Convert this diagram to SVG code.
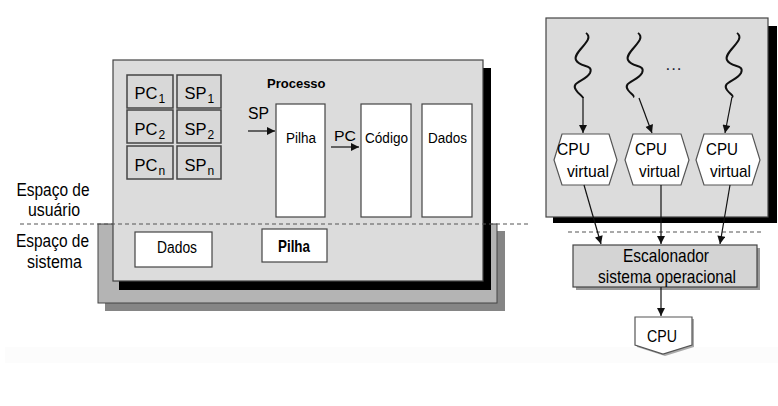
<svg xmlns="http://www.w3.org/2000/svg" width="778" height="406" viewBox="0 0 778 406">
<defs>
<style>
text{font-family:"Liberation Sans",Arial,sans-serif;fill:#000}
.t15{font-size:15px}
.lbl{font-size:17.5px}
.reg-t{font-size:16.5px}
.sub{font-size:12px}
.cpu{font-size:17px}
.sch{font-size:19px}
.b{font-weight:bold}
.box{fill:#dcdcdc;stroke:#444;stroke-width:1.2}
.wbox{fill:#fff;stroke:#444;stroke-width:1.2}
.reg{fill:#d8d8d8;stroke:#444;stroke-width:1.5}
.ln{stroke:#111;stroke-width:1.2;fill:none}
.sq{stroke:#111;stroke-width:2;fill:none}
.dash{stroke:#555;stroke-width:1.2;stroke-dasharray:4,3;fill:none}
</style>
<marker id="ah" viewBox="0 0 10 10" refX="10" refY="5" markerWidth="9" markerHeight="8" markerUnits="userSpaceOnUse" orient="auto">
<path d="M0,0 L10,5 L0,10 z" fill="#111"/>
</marker>
</defs>
<rect width="778" height="406" fill="#fff"/>
<rect x="5" y="347" width="773" height="16" fill="#fcfcfc"/>

<g id="process-frame">
<rect x="105" y="231" width="400" height="80" fill="#858585"/>
<rect x="98" y="224" width="399" height="79" fill="#b4b4b4" stroke="#444" stroke-width="1"/>
<rect x="119" y="68" width="372" height="222" fill="#000"/>
<rect x="113" y="60" width="370" height="221" class="box"/>
</g>

<g id="registers">
<rect x="127" y="75" width="46" height="33" class="reg"/>
<text x="134.5" y="99" class="reg-t">PC</text>
<text x="158.5" y="103" class="sub">1</text>
<rect x="177" y="75" width="44" height="33" class="reg"/>
<text x="184.5" y="99" class="reg-t">SP</text>
<text x="207.5" y="103" class="sub">1</text>
<rect x="127" y="110" width="46" height="33" class="reg"/>
<text x="134.5" y="134.5" class="reg-t">PC</text>
<text x="158.5" y="138.5" class="sub">2</text>
<rect x="177" y="110" width="44" height="33" class="reg"/>
<text x="184.5" y="134.5" class="reg-t">SP</text>
<text x="207.5" y="138.5" class="sub">2</text>
<rect x="127" y="146" width="46" height="33" class="reg"/>
<text x="134.5" y="170.5" class="reg-t">PC</text>
<text x="158.5" y="174.5" class="sub">n</text>
<rect x="177" y="146" width="44" height="33" class="reg"/>
<text x="184.5" y="170.5" class="reg-t">SP</text>
<text x="207.5" y="174.5" class="sub">n</text>
</g>

<g id="processo-label"><text x="267" y="87.5" class="b" style="font-size:13px">Processo</text></g>

<g id="pilha">
<rect x="276" y="104" width="49" height="113" class="wbox"/>
<text x="286" y="142.5" style="font-size:15.5px" textLength="30" lengthAdjust="spacingAndGlyphs">Pilha</text>
</g>
<g id="codigo">
<rect x="361" y="104" width="50" height="113" class="wbox"/>
<text x="365" y="142.5" style="font-size:15.5px" textLength="43" lengthAdjust="spacingAndGlyphs">Código</text>
</g>
<g id="dados">
<rect x="422" y="104" width="50" height="113" class="wbox"/>
<text x="428" y="142.5" style="font-size:15.5px" textLength="39" lengthAdjust="spacingAndGlyphs">Dados</text>
</g>
<g id="dados-sistema">
<rect x="135" y="232" width="77" height="35" class="wbox"/>
<text x="157" y="253" style="font-size:16px" textLength="40" lengthAdjust="spacingAndGlyphs">Dados</text>
</g>
<g id="pilha-sistema">
<rect x="262" y="229" width="65" height="33" class="wbox"/>
<text x="278" y="251.5" class="b" style="font-size:17px" textLength="32" lengthAdjust="spacingAndGlyphs">Pilha</text>
</g>

<g id="labels">
<text x="16.5" y="195.5" class="lbl" textLength="73" lengthAdjust="spacingAndGlyphs">Espaço de</text>
<text x="28" y="215.5" class="lbl" textLength="52" lengthAdjust="spacingAndGlyphs">usuário</text>
<text x="16" y="246.5" class="lbl" textLength="73" lengthAdjust="spacingAndGlyphs">Espaço de</text>
<text x="27" y="267.5" class="lbl" textLength="55" lengthAdjust="spacingAndGlyphs">sistema</text>
<text x="248" y="119" style="font-size:16px" textLength="21" lengthAdjust="spacingAndGlyphs">SP</text>
<text x="334" y="140.5" style="font-size:15.5px" textLength="22" lengthAdjust="spacingAndGlyphs">PC</text>
</g>

<g id="right-frame">
<rect x="553" y="26" width="224" height="197" fill="#000"/>
<rect x="546" y="18" width="222" height="199" class="box"/>
</g>

<g id="threads">
<path class="sq" d="M586,33 C596,40 572,52 576,60 C580,68 594,64 590,73 C586,81 570,82 576,90 C579,95 583,96 583,98"/>
<path class="sq" d="M638,33 C648,40 624,52 628,60 C632,68 646,64 642,73 C638,81 622,82 628,90 C631,94 635,96 633,97"/>
<path class="sq" d="M737,33 C747,40 723,52 727,60 C731,68 745,64 741,73 C737,81 721,82 727,90 C730,94 734,96 732,97"/>
<text x="674" y="70" text-anchor="middle" style="font-size:17px;letter-spacing:1px;fill:#223">...</text>
</g>

<g id="cpu-virtual-1">
<polygon points="554,160 562,134 609,134 617,160 609,185 562,185" fill="#fff" stroke="#555" stroke-width="1.2"/>
<text x="557" y="155" class="cpu" textLength="33" lengthAdjust="spacingAndGlyphs">CPU</text>
<text x="567" y="176.5" class="cpu" textLength="42" lengthAdjust="spacingAndGlyphs">virtual</text>
</g>
<g id="cpu-virtual-2">
<polygon points="625,160 633,134 681,134 689,160 681,185 633,185" fill="#fff" stroke="#555" stroke-width="1.2"/>
<text x="635" y="155" class="cpu" textLength="32" lengthAdjust="spacingAndGlyphs">CPU</text>
<text x="639" y="176.5" class="cpu" textLength="41" lengthAdjust="spacingAndGlyphs">virtual</text>
</g>
<g id="cpu-virtual-3">
<polygon points="696,160 704,134 752,134 760,160 752,185 704,185" fill="#fff" stroke="#555" stroke-width="1.2"/>
<text x="706" y="155" class="cpu" textLength="32" lengthAdjust="spacingAndGlyphs">CPU</text>
<text x="710" y="176.5" class="cpu" textLength="41" lengthAdjust="spacingAndGlyphs">virtual</text>
</g>

<g id="escalonador">
<rect x="576" y="248" width="184" height="42" fill="#999"/>
<rect x="573" y="245" width="184" height="42" fill="#d4d4d4" stroke="#444" stroke-width="1.2"/>
<text x="623" y="261.5" class="sch" textLength="86" lengthAdjust="spacingAndGlyphs">Escalonador</text>
<text x="598" y="282.5" class="sch" textLength="138" lengthAdjust="spacingAndGlyphs">sistema operacional</text>
</g>

<g id="cpu">
<polygon points="637,319 694,319 694,347 665,356 637,347" fill="#aaa"/>
<polygon points="635,317 692,317 692,345 663,354 635,345" fill="#fff" stroke="#555" stroke-width="1.2"/>
<text x="647" y="341.5" class="cpu" textLength="30" lengthAdjust="spacingAndGlyphs">CPU</text>
</g>

<g id="connectors">
<line class="dash" x1="20" y1="224" x2="530" y2="224"/>
<line class="dash" x1="568" y1="232" x2="762" y2="232"/>
<line class="ln" x1="248" y1="131" x2="275" y2="131" marker-end="url(#ah)"/>
<line class="ln" x1="331" y1="147" x2="359" y2="147" marker-end="url(#ah)"/>
<line class="ln" x1="583" y1="97" x2="583" y2="133" marker-end="url(#ah)"/>
<line class="ln" x1="639" y1="98" x2="652" y2="133" marker-end="url(#ah)"/>
<line class="ln" x1="732" y1="97" x2="725" y2="133" marker-end="url(#ah)"/>
<line class="ln" x1="584" y1="185" x2="601" y2="244" marker-end="url(#ah)"/>
<line class="ln" x1="661" y1="185" x2="661" y2="244" marker-end="url(#ah)"/>
<line class="ln" x1="730" y1="185" x2="720" y2="244" marker-end="url(#ah)"/>
<line class="ln" x1="661" y1="287" x2="661" y2="316" marker-end="url(#ah)"/>
</g>
</svg>
